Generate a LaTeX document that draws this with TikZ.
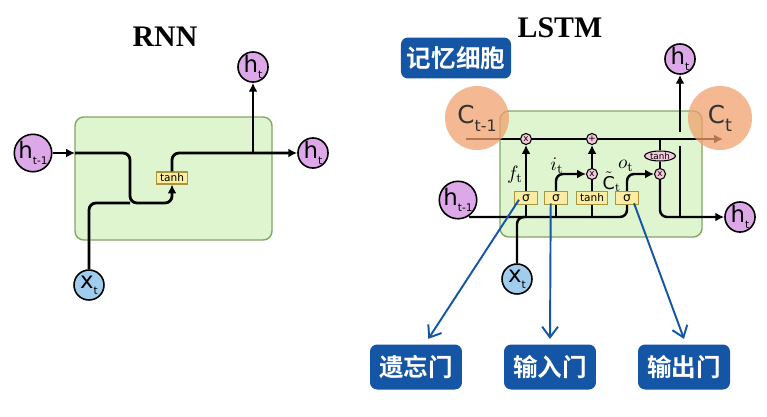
\documentclass[tikz,border=0pt]{standalone}
\usepackage{fontspec}
\setsansfont{DejaVu Sans}
\newfontfamily\titlefont{Liberation Serif}
\newfontfamily\cjk{Noto Sans CJK SC}[BoldFont={Noto Sans CJK SC Bold}]
\usetikzlibrary{arrows.meta,positioning,shapes.geometric}
\definecolor{cellgreen}{RGB}{222,245,208}
\definecolor{boxedge}{RGB}{130,165,100}
\definecolor{hpurple}{RGB}{221,168,232}
\definecolor{xblue}{RGB}{160,205,238}
\definecolor{oppink}{RGB}{245,200,220}
\definecolor{gateyellow}{RGB}{250,236,160}
\definecolor{gateedge}{RGB}{170,150,60}
\definecolor{tagblue}{RGB}{20,85,165}
\definecolor{corange}{RGB}{240,160,110}
\newcommand{\hsub}[2]{#1\raisebox{-0.5ex}{\fontsize{6}{6}\selectfont #2}}

\begin{document}
\begin{tikzpicture}[x=0.02cm,y=-0.02cm,
    every node/.style={font=\sffamily},
    >={Latex[length=5pt,width=5pt]},
    title/.style={font=\titlefont\bfseries\fontsize{17}{17}\selectfont},
    cellbox/.style={draw=boxedge, fill=cellgreen, line width=0.8pt, rounded corners=5pt},
    hnode/.style={circle, draw, line width=0.9pt, fill=hpurple, minimum size=0.6cm, inner sep=0pt, font=\sffamily\fontsize{13}{13}\selectfont},
    xnode/.style={hnode, fill=xblue},
    opnode/.style={circle, draw, line width=0.6pt, fill=oppink, minimum size=0.22cm, inner sep=0pt, font=\sffamily\fontsize{5}{5}\selectfont},
    tanhoval/.style={ellipse, draw, line width=0.6pt, fill=oppink, minimum width=0.62cm, minimum height=0.2cm, inner sep=0pt, font=\sffamily\fontsize{5}{5}\selectfont},
    gatebox/.style={rectangle, draw=gateedge, line width=0.6pt, fill=gateyellow, minimum width=0.46cm, minimum height=0.26cm, inner sep=0pt, font=\sffamily\fontsize{7}{7}\selectfont},
    wire/.style={line width=1.6pt, rounded corners=4pt},
    lwire/.style={line width=1.4pt, rounded corners=4pt},
    gatelabel/.style={inner sep=0pt, font=\fontsize{11}{11}\selectfont},
    cstate/.style={circle, fill=corange, fill opacity=0.75, text opacity=1, text=black!80, minimum size=1.28cm, inner sep=0pt, font=\sffamily\fontsize{14}{14}\selectfont},
    tag/.style={rectangle, fill=tagblue, text=white, rounded corners=4pt, minimum width=1.84cm, minimum height=0.9cm, font=\cjk\bfseries\fontsize{14}{14}\selectfont},
    pointer/.style={draw=tagblue, line width=1.1pt, -{Straight Barb[length=6pt,width=9pt]}},
  ]
  \useasboundingbox (0,0) rectangle (767,416);

  % RNN
  \node[title] (rnntitle) at (165,37) {RNN};
  \draw[cellbox] (75,117) rectangle (272,240);
  \node[hnode] (hprev) at (33,153) {\hsub{h}{t-1}};
  \node[hnode] (htop) at (253,67) {\hsub{h}{t}};
  \node[hnode] (hnext) at (313,153) {\hsub{h}{t}};
  \node[xnode] (xin) at (89,285) {\hsub{x}{t}};
  \node[gatebox, minimum width=0.62cm, minimum height=0.24cm, font=\sffamily\fontsize{6}{6}\selectfont] (rtanh) at (172,178) {tanh};
  \coordinate (rleft) at (75,153);
  \coordinate (rjoin) at (130,203);

  \draw[wire,->] (hprev) -- (rleft);
  \draw[wire,->] (rleft) -| (rjoin) -| (rtanh.south);
  \draw[wire] (xin) |- (rjoin);
  \draw[wire,->] (rtanh.north) |- (hnext);
  \draw[wire,->] (htop |- hnext) -- (htop);

  % LSTM
  \node[title] (lstmtitle) at (560,28) {LSTM};
  \node[tag, minimum width=2.16cm, minimum height=0.82cm] (memtag) at (456,58) {记忆细胞};
  \draw[cellbox] (500,111) rectangle (702,237);
  \node[hnode] (hprevL) at (458,200) {\hsub{h}{t-1}};
  \node[xnode] (xinL) at (517,279) {\hsub{x}{t}};
  \node[hnode] (htopL) at (680,59) {\hsub{h}{t}};
  \node[hnode] (hnextL) at (740,217) {\hsub{h}{t}};
  \node[opnode] (mulf) at (526,139) {x};
  \node[opnode] (addc) at (592,139) {+};
  \node[opnode] (muli) at (592,174) {x};
  \node[opnode] (mulo) at (660,174) {x};
  \node[tanhoval] (tanhc) at (660,156) {tanh};
  \node[gatebox] (sigf) at (526,198) {σ};
  \node[gatebox] (sigi) at (556,198) {σ};
  \node[gatebox, minimum width=0.62cm, font=\sffamily\fontsize{6}{6}\selectfont] (tanhb) at (592,198) {tanh};
  \node[gatebox] (sigo) at (627,198) {σ};
  \coordinate (cin) at (466,139);
  \coordinate (cout) at (723,139);
  \coordinate (bstart) at (469,217);

  \draw[lwire] (cin) -- (mulf);
  \draw[lwire] (mulf) -- (addc);
  \draw[lwire,->] (addc) -- (cout);
  \draw[lwire] (tanhc.north |- cin) -- (tanhc);
  \draw[lwire] (tanhc) -- (mulo);
  \draw[lwire] (bstart) -| (sigo.south);
  \draw[lwire] (xinL) |- (sigf.south |- bstart);
  \draw[lwire] (sigf.south |- bstart) -- (sigf.south);
  \draw[lwire] (sigi.south |- bstart) -- (sigi.south);
  \draw[lwire] (tanhb.south |- bstart) -- (tanhb.south);
  \draw[lwire,->] (sigf) -- (mulf);
  \draw[lwire,->] (sigi) |- (muli);
  \draw[lwire] (tanhb) -- (muli);
  \draw[lwire,->] (muli) -- (addc);
  \draw[lwire,->] (sigo) |- (mulo);
  \draw[lwire,->] (mulo) |- (hnextL);
  \draw[lwire] (htopL |- bstart) -- ([yshift=-4pt]htopL |- cin);
  \draw[lwire,->] ([yshift=4pt]htopL |- cin) -- (htopL);

  \node[gatelabel] (flabel) at (515,175) {$f_{\mathrm t}$};
  \node[gatelabel] (ilabel) at (557,166) {$i_{\mathrm t}$};
  \node[gatelabel] (olabel) at (626,166) {$o_{\mathrm t}$};
  \node[gatelabel, font=\fontsize{10}{10}\selectfont] (clabel) at (612,182) {$\tilde{\textsf{C}}_{\mathrm t}$};

  \node[cstate] (cprev) at (477,118) {C\raisebox{-0.6ex}{\fontsize{9}{9}\selectfont t-1}};
  \node[cstate] (cnext) at (720,118) {C\raisebox{-0.6ex}{\fontsize{10}{10}\selectfont t}};

  \node[tag] (forget) at (416,367) {遗忘门};
  \node[tag] (inputg) at (550,367) {输入门};
  \node[tag] (outputg) at (684,367) {输出门};

  \draw[pointer] ([xshift=-4pt,yshift=-1pt]sigf.center) -- ([xshift=7pt,yshift=3pt]forget.north);
  \draw[pointer] ([xshift=-3pt,yshift=-3pt]sigi.center) -- ([yshift=3pt]inputg.north);
  \draw[pointer] ([xshift=4pt,yshift=-3pt]sigo.center) -- ([yshift=3pt]outputg.north);
\end{tikzpicture}
\end{document}
